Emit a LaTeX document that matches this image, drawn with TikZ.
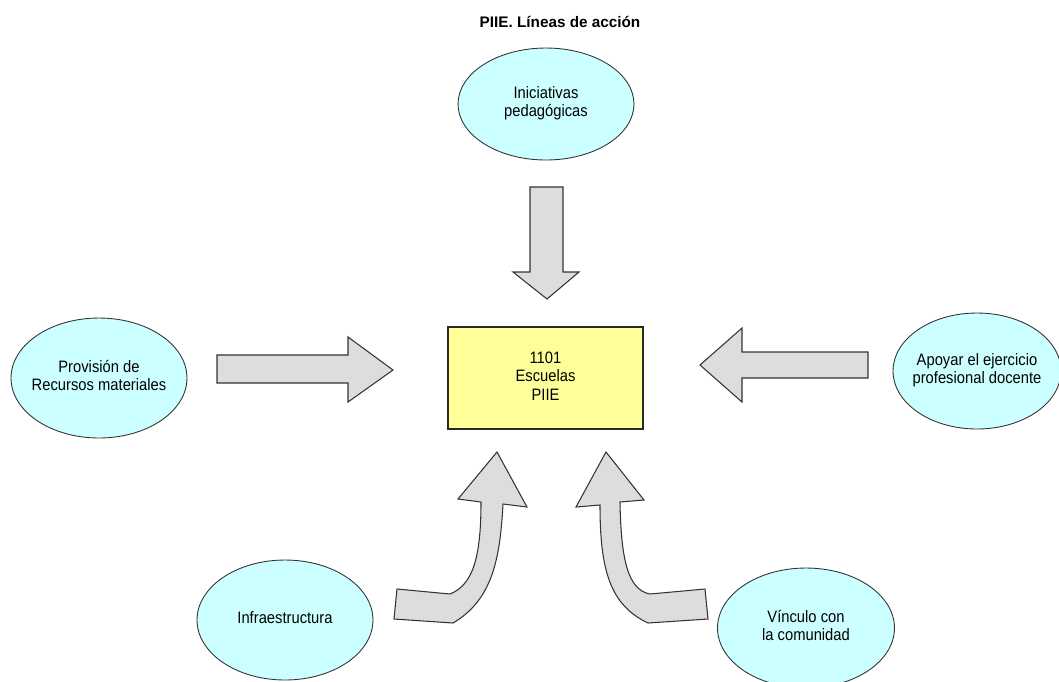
\documentclass[tikz,border=0pt]{standalone}
\usepackage{fontspec}
\setmainfont{Liberation Sans}
\usepackage{graphicx}
\usetikzlibrary{shapes.geometric}
\definecolor{ellfill}{HTML}{CCFFFF}
\definecolor{boxfill}{HTML}{FFFF99}
\definecolor{arrfill}{HTML}{DDDDDD}
\definecolor{edge}{HTML}{333333}
\newcommand{\lbl}[1]{\scalebox{1}[1.12]{\fontsize{8.4}{9.4}\selectfont\begin{tabular}{@{}c@{}}#1\end{tabular}}}
\tikzset{
  oval/.style={ellipse, draw=edge, line width=0.5pt, fill=ellfill, inner sep=-14pt, minimum width=3.52cm, minimum height=2.4cm},
  centerbox/.style={rectangle, draw=edge!80!black, line width=0.8pt, fill=boxfill, minimum width=3.9cm, minimum height=2.04cm, inner sep=0pt},
  blockarrow/.style={draw=edge, line width=0.6pt, fill=arrfill, line join=miter},
  titletext/.style={font=\fontsize{8.7}{10}\selectfont\bfseries, inner sep=0pt}
}
\begin{document}
\begin{tikzpicture}[x=0.02cm,y=-0.02cm]
\useasboundingbox (0,0) rectangle (1059,681);
\clip (0,0) rectangle (1059,681);
\fill[white] (0,0) rectangle (1059,681);

\node[titletext] (title) at (560,22) {PIIE. Líneas de acción};

\node[oval, minimum width=3.52cm, minimum height=2.24cm] (ini) at (546,104) {\lbl{Iniciativas\\pedagógicas}};
\node[oval] (prov) at (99,378) {\lbl{Provisión de\\Recursos materiales}};
\node[oval, minimum width=3.36cm, minimum height=2.32cm] (apo) at (977,371) {\lbl{Apoyar el ejercicio\\profesional docente}};
\node[oval] (infra) at (285,620) {\lbl{Infraestructura}};
\node[oval, minimum width=3.54cm] (vin) at (806,628) {\lbl{Vínculo con\\la comunidad}};

\node[centerbox] (esc) at (545.5,378) {\lbl{1101\\Escuelas\\PIIE}};

% down arrow
\draw[blockarrow] (530,187) -- (563,187) -- (563,272) -- (579,272) -- (547,299) -- (513,272) -- (530,272) -- cycle;
% right arrow
\draw[blockarrow] (217,355) -- (348,355) -- (348,337) -- (393,370) -- (348,402) -- (348,383) -- (217,383) -- cycle;
% left arrow
\draw[blockarrow] (868,352) -- (742,352) -- (742,328) -- (700,365) -- (742,402) -- (742,378) -- (868,378) -- cycle;
% left curved arrow
\draw[blockarrow] (497,452) -- (527,507) -- (503,504)
  .. controls (500,560) and (492,600) .. (453,623)
  -- (394,619) -- (397,589) -- (450,594)
  .. controls (472,585) and (481,560) .. (481,502)
  -- (458,499) -- cycle;
% right curved arrow
\draw[blockarrow] (606,452) -- (644,500) -- (620,502)
  .. controls (621,560) and (628,590) .. (650,594)
  -- (705,589) -- (708,619) -- (648,623)
  .. controls (610,605) and (600,570) .. (600,505)
  -- (576,507) -- cycle;
\end{tikzpicture}
\end{document}
